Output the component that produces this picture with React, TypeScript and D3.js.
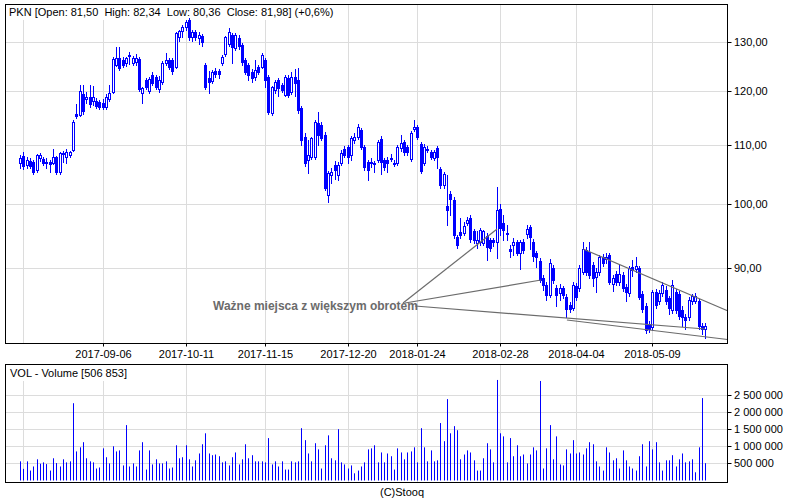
import React from 'react';
import * as d3 from 'd3';

// ---------- DATA ----------
const opens = [
  106.8,108.0,106.5,107.1,106.9,105.6,107.7,107.5,106.9,106.9,
  106.8,107.8,105.2,108.5,107.9,108.2,109.1,115.7,115.5,119.5,
  118.5,118.9,118.1,118.1,117.9,117.8,117.0,118.6,119.9,125.3,
  126.7,126.3,125.7,127.3,125.7,125.9,126.5,119.7,122.2,120.0,
  123.2,122.8,120.4,121.8,125.7,126.3,126.3,124.9,131.0,132.3,
  133.3,134.8,131.0,132.1,130.8,131.3,125.3,122.6,122.0,124.0,
  124.0,125.7,127.5,129.6,131.5,128.8,130.9,129.4,126.3,125.3,
  123.8,122.8,124.9,124.9,126.3,122.8,115.8,120.2,122.2,121.2,
  119.3,122.6,119.9,122.8,122.2,116.8,111.4,107.3,107.9,107.9,
  113.9,113.6,111.8,101.4,104.7,106.5,104.7,106.8,109.3,109.6,
  108.2,110.9,111.4,112.7,109.6,107.0,106.9,106.8,107.3,111.0,
  107.3,107.3,107.5,106.7,106.8,109.4,110.5,109.6,107.5,112.9,
  113.2,110.2,106.8,109.3,108.7,107.7,109.4,105.8,103.0,99.6,
  101.6,100.6,94.7,95.4,95.3,96.9,97.7,95.6,93.8,93.9,
  93.8,94.9,94.2,94.2,93.9,99.1,96.9,95.3,92.9,93.5,
  93.9,92.2,94.0,95.2,96.3,94.0,92.2,91.1,88.6,87.6,
  86.2,90.1,87.2,86.5,87.1,85.9,84.8,84.4,87.5,87.2,
  89.5,92.7,92.4,90.5,88.8,89.4,91.7,91.3,91.9,87.8,
  89.2,88.0,89.0,87.3,86.5,90.2,89.9,90.0,86.3,84.6,
  82.2,81.8,86.6,85.3,86.5,86.9,85.7,84.1,86.6,86.3,
  84.1,83.2,83.2,85.3,85.4,85.3,82.0,81.5
];
const highs = [
  108.2,108.8,107.8,107.6,107.4,108.4,108.5,107.9,107.6,107.3,
  109.3,108.0,108.7,109.0,109.2,109.0,114.5,117.5,121.2,121.3,
  119.8,121.2,121.0,118.8,118.4,118.6,119.5,121.3,126.8,129.0,
  129.0,126.8,127.0,127.9,127.2,127.5,126.8,120.8,122.6,122.8,
  123.8,123.2,123.0,126.0,127.7,126.7,126.7,132.2,132.6,133.7,
  134.8,135.2,132.6,132.6,132.2,131.7,125.7,124.0,124.2,124.6,
  124.4,127.3,131.3,133.0,132.0,131.9,131.6,129.8,126.7,125.7,
  124.4,126.3,125.3,127.7,126.7,123.2,121.0,122.2,122.6,121.6,
  123.2,123.2,123.8,124.4,124.6,117.2,112.1,110.9,111.4,114.5,
  116.0,114.1,112.3,105.4,106.0,107.2,107.0,109.1,109.8,110.0,
  111.6,112.1,113.8,113.0,110.0,107.4,107.6,107.1,110.9,111.6,
  107.6,107.9,108.3,107.3,110.0,111.8,110.9,110.0,112.5,114.6,
  113.6,110.5,110.2,109.8,109.1,109.1,109.8,106.1,105.3,104.7,
  102.0,101.0,95.0,97.7,97.0,97.9,98.2,96.0,95.6,96.1,
  95.8,95.3,94.5,94.5,102.7,100.0,98.1,96.5,93.5,94.6,
  94.3,94.3,94.4,96.6,96.6,94.4,92.5,91.5,89.0,88.0,
  91.3,90.5,87.6,87.7,87.5,86.3,85.2,88.0,87.9,90.5,
  94.0,93.2,94.0,90.9,90.0,92.0,92.1,92.2,92.3,89.0,
  89.6,90.6,89.4,87.7,90.3,91.2,91.6,90.4,86.7,85.0,
  82.6,86.9,87.0,86.9,88.0,87.4,86.1,88.3,87.0,86.7,
  84.6,83.5,85.9,86.3,86.4,85.6,82.4,82.34
];
const lows = [
  105.9,105.8,106.0,105.9,104.9,105.3,107.2,106.4,105.9,105.3,
  106.6,104.9,104.9,107.0,106.8,107.8,108.9,115.0,115.2,115.6,
  117.7,117.0,117.3,116.8,116.6,116.6,116.7,118.2,119.6,125.0,
  124.2,124.8,125.0,125.5,125.3,125.3,120.0,117.7,120.4,119.6,
  121.2,120.4,119.8,121.4,125.3,124.5,123.4,124.6,130.2,131.2,
  132.5,130.4,130.2,130.4,129.6,129.2,120.4,119.7,121.6,122.8,
  122.6,125.3,127.1,129.2,125.7,128.4,128.6,125.3,123.4,122.2,
  121.8,122.2,123.4,124.6,120.8,115.6,115.4,119.7,119.1,119.9,
  119.1,118.9,119.5,119.1,115.8,110.0,106.3,105.0,107.5,107.5,
  110.0,110.9,102.2,100.2,103.4,104.0,103.9,106.4,107.8,106.8,
  107.3,110.4,111.0,109.2,105.6,103.9,106.2,105.2,106.9,104.9,
  105.6,105.2,107.1,106.3,106.4,108.9,108.2,108.2,107.1,112.5,
  111.0,105.0,106.4,108.7,107.5,107.3,106.0,102.6,102.6,96.6,
  98.2,94.6,93.0,94.5,95.0,96.6,94.0,93.8,93.0,93.5,
  93.5,91.2,92.6,93.3,91.5,95.0,94.2,94.2,91.6,92.0,
  91.9,89.9,92.3,94.6,92.9,91.1,90.2,88.0,86.9,85.5,
  85.9,87.9,84.6,85.5,85.8,83.1,83.8,84.1,85.5,86.8,
  89.2,89.0,88.6,87.5,86.6,89.0,90.4,90.8,87.7,86.8,
  87.6,87.6,86.8,85.3,86.1,88.9,89.5,85.6,83.8,81.0,
  81.1,81.4,84.4,84.9,86.1,84.9,83.6,83.7,83.7,82.9,
  82.0,81.6,82.8,84.9,85.0,81.6,80.9,80.36
];
const closes = [
  107.7,106.3,107.3,106.3,105.2,108.2,108.2,106.8,106.8,106.6,
  107.8,105.2,108.5,108.3,108.8,108.8,114.1,115.2,120.0,116.2,
  119.0,117.6,118.9,117.2,117.0,117.0,118.9,119.6,126.5,126.7,
  124.6,125.3,126.7,127.1,126.7,126.7,120.4,120.6,120.8,122.4,
  121.6,120.8,122.2,125.7,126.3,124.9,124.0,131.9,132.3,133.3,
  134.4,131.0,132.1,131.0,131.6,130.0,120.8,121.8,123.8,123.4,
  123.4,126.9,131.0,132.1,129.0,131.5,129.2,125.9,123.8,123.2,
  122.6,124.2,123.8,127.3,122.2,116.0,120.8,121.8,120.6,120.2,
  122.8,119.3,122.8,121.6,116.4,110.9,106.8,108.2,111.2,114.1,
  111.8,111.2,102.6,105.1,105.3,105.6,106.5,108.6,108.2,107.9,
  111.2,111.4,113.2,109.6,106.1,105.6,106.8,106.6,110.5,107.0,
  106.1,106.8,107.7,106.8,109.6,110.3,108.7,108.7,112.1,113.2,
  111.4,105.4,109.6,109.1,107.9,108.7,107.9,103.0,104.9,98.9,
  100.7,95.0,93.5,95.0,96.4,97.4,94.4,94.2,94.2,95.8,
  95.6,93.2,93.0,93.9,98.9,96.1,95.8,95.2,92.6,94.0,
  92.2,93.9,92.7,96.0,94.7,91.8,91.7,88.3,87.6,86.2,
  90.8,88.3,86.2,87.1,86.2,84.3,84.3,87.6,85.9,90.0,
  92.8,89.4,89.0,88.6,89.5,91.6,90.8,91.7,88.0,88.6,
  88.0,89.2,87.2,86.6,90.0,89.8,90.3,85.9,84.2,81.4,
  81.5,86.6,84.8,86.5,87.6,85.3,84.4,87.6,84.1,83.3,
  83.2,82.7,85.5,86.0,86.1,82.0,81.49,81.98
];
const volumes = [
  560000,340000,560000,290000,410000,620000,490000,530000,480000,290000,
  650000,510000,410000,620000,530000,560000,2260000,850000,970000,1120000,
  650000,560000,530000,350000,380000,940000,680000,500000,1000000,850000,
  880000,440000,1620000,410000,500000,410000,880000,1120000,320000,880000,
  470000,620000,500000,500000,560000,350000,380000,1030000,650000,680000,
  1030000,620000,410000,590000,790000,1060000,1380000,790000,740000,760000,
  710000,530000,560000,440000,680000,820000,470000,620000,1060000,650000,
  740000,560000,560000,560000,530000,1240000,470000,560000,410000,560000,
  320000,320000,560000,530000,560000,1530000,1180000,790000,560000,1090000,
  910000,350000,1030000,1320000,650000,590000,1500000,530000,470000,350000,
  440000,210000,290000,410000,530000,910000,940000,1030000,530000,820000,
  530000,790000,710000,320000,940000,820000,620000,820000,850000,970000,
  530000,1530000,970000,560000,880000,560000,590000,1680000,1150000,2380000,
  1380000,1590000,1470000,620000,760000,880000,820000,590000,290000,290000,
  650000,1090000,910000,530000,2940000,1380000,1290000,530000,1240000,710000,
  1030000,710000,760000,500000,760000,970000,880000,2910000,350000,940000,
  1620000,620000,1290000,470000,440000,910000,790000,1180000,790000,820000,
  760000,940000,1120000,1060000,560000,410000,290000,970000,820000,590000,
  650000,350000,880000,590000,410000,350000,290000,710000,1060000,410000,
  1150000,910000,1120000,530000,290000,590000,590000,740000,410000,620000,
  790000,530000,560000,620000,240000,970000,2410000,506853
];

const ticker = 'PKN';
const xTickIndex = [1, 25, 50, 74, 99, 120, 145, 168, 191];
const xTickLabels = ['2017-08-02', '2017-09-06', '2017-10-11', '2017-11-15', '2017-12-20', '2018-01-24', '2018-02-28', '2018-04-04', '2018-05-09'];
const priceTicks = [90, 100, 110, 120, 130];
const volumeTicks = [500000, 1000000, 1500000, 2000000, 2500000];

const annotationText = 'Ważne miejsca z większym obrotem';
const annotationAnchor = [58.3, 84.1]; // [index, price]
const annotationLines = [
  [[115.7, 85.06], [144.1, 95.94]],
  [[116.3, 85.06], [157.4, 88.3]],
  [[119.3, 84.65], [206.9, 81.54]],
  [[165.2, 82.74], [213.7, 80.16]],
  [[170.1, 92.87], [213.7, 84.0]],
];

// ---------- CHART ----------
const FONT = "'Liberation Sans', Arial, Helvetica, sans-serif";
const BLUE = '#0000ff';
const GRID = '#dcdcdc';
const GRAY = '#6b6b6b';

export default function App() {
  const n = closes.length;
  const plotL = 5.5, plotR = 727.5, mainT = 4.5, mainB = 343.5, volT = 364.5, volB = 482.5;
  const x = d3.scaleLinear().domain([0, n - 1]).range([20, 705.3]);
  const y = d3.scaleLog().domain([79.64, 138.21]).range([mainB, mainT]);
  const yv = d3.scaleLinear().domain([0, 3.392e6]).range([480.5, volT]);
  const px = (v: number) => Math.round(v) + 0.5;
  const volFmt = d3.formatLocale({ decimal: ',', thousands: ' ', grouping: [3], currency: ['', ''] }).format(',d');
  const priceFmt = (v: number) => v.toFixed(2).replace('.', ',');
  const last = n - 1;
  const chg = (closes[last] / closes[last - 1] - 1) * 100;
  const chgTxt = (chg >= 0 ? '+' : '') + chg.toFixed(1).replace('.', ',') + '%';
  const title = `${ticker} [Open: ${priceFmt(opens[last])}  High: ${priceFmt(highs[last])}  Low: ${priceFmt(lows[last])}  Close: ${priceFmt(closes[last])}] (${chgTxt})`;
  const volTitle = `VOL - Volume [${volFmt(volumes[last])}]`;
  const line = d3.line<number[]>().x((d) => x(d[0])).y((d) => y(d[1]));

  return (
    <svg width={800} height={500} style={{ position: 'absolute', left: 0, top: 0, background: '#fff' }}
      fontFamily={FONT} fontSize={11}>
      <rect x={0} y={0} width={800} height={500} fill="#fff" />
      {/* main grid */}
      {priceTicks.map((t) => (
        <line key={'hg' + t} x1={plotL} x2={plotR} y1={px(y(t))} y2={px(y(t))} stroke={GRID} />
      ))}
      {xTickIndex.map((i) => (
        <line key={'vg' + i} x1={px(x(i))} x2={px(x(i))} y1={mainT} y2={mainB} stroke={GRID} />
      ))}
      {/* volume grid */}
      {volumeTicks.map((t) => (
        <line key={'vhg' + t} x1={plotL} x2={plotR} y1={px(yv(t))} y2={px(yv(t))} stroke={GRID} />
      ))}
      {xTickIndex.map((i) => (
        <line key={'vvg' + i} x1={px(x(i))} x2={px(x(i))} y1={volT} y2={volB} stroke={GRID} />
      ))}
      {/* label backgrounds */}
      <rect x={6} y={5} width={324} height={15} fill="#fff" />
      <rect x={6} y={365} width={124} height={16} fill="#fff" />

      {/* candles */}
      {closes.map((c, i) => {
        const o = opens[i];
        const cx = px(x(i));
        const top = Math.round(y(Math.max(o, c)));
        const bot = Math.round(y(Math.min(o, c)));
        const up = c >= o;
        return (
          <g key={'c' + i}>
            <line x1={cx} x2={cx} y1={Math.round(y(highs[i]))} y2={Math.round(y(lows[i])) + 1} stroke={BLUE} />
            <rect x={cx - 1} y={top + 0.5} width={2} height={Math.max(bot - top, 1)}
              fill={up ? '#fff' : BLUE} stroke={BLUE} />
          </g>
        );
      })}

      {/* annotation */}
      {annotationLines.map((pts, k) => (
        <path key={'al' + k} d={line(pts) || ''} fill="none" stroke={GRAY} strokeWidth={1.2} />
      ))}
      <text x={x(annotationAnchor[0])} y={y(annotationAnchor[1])} fontSize={12} fontWeight="bold" fill={GRAY}>
        {annotationText}
      </text>

      {/* volume bars */}
      {volumes.map((v, i) => (
        <line key={'v' + i} x1={px(x(i))} x2={px(x(i))} y1={yv(0)} y2={yv(v)} stroke={BLUE} />
      ))}

      {/* frames */}
      <rect x={plotL} y={mainT} width={plotR - plotL} height={mainB - mainT} fill="none" stroke="#000" />
      <rect x={plotL} y={volT} width={plotR - plotL} height={volB - volT} fill="none" stroke="#000" />

      {/* price axis */}
      {priceTicks.map((t) => (
        <g key={'pt' + t}>
          <line x1={plotR} x2={plotR + 4} y1={px(y(t))} y2={px(y(t))} stroke="#000" />
          <text x={734} y={y(t) + 4} fill="#000">{priceFmt(t)}</text>
        </g>
      ))}
      {/* volume axis */}
      {volumeTicks.map((t) => (
        <g key={'vt' + t}>
          <line x1={plotR} x2={plotR + 4} y1={px(yv(t))} y2={px(yv(t))} stroke="#000" />
          <text x={734} y={yv(t) + 4} fill="#000">{volFmt(t)}</text>
        </g>
      ))}
      {/* date axis */}
      {xTickIndex.map((i, k) => {
        const xx = px(x(i));
        const show = xx - 30 > plotL;
        return (
          <g key={'xt' + i}>
            {show && <line x1={xx} x2={xx} y1={mainB} y2={mainB + 3} stroke="#000" />}
            {show && <text x={xx} y={358} textAnchor="middle" fill="#000">{xTickLabels[k]}</text>}
          </g>
        );
      })}

      {/* titles */}
      <text x={9} y={16} fill="#000" style={{ whiteSpace: 'pre' }}>{title}</text>
      <text x={10} y={377} fill="#000">{volTitle}</text>
      <text x={402} y={496} textAnchor="middle" fill="#000">(C)Stooq</text>
    </svg>
  );
}
